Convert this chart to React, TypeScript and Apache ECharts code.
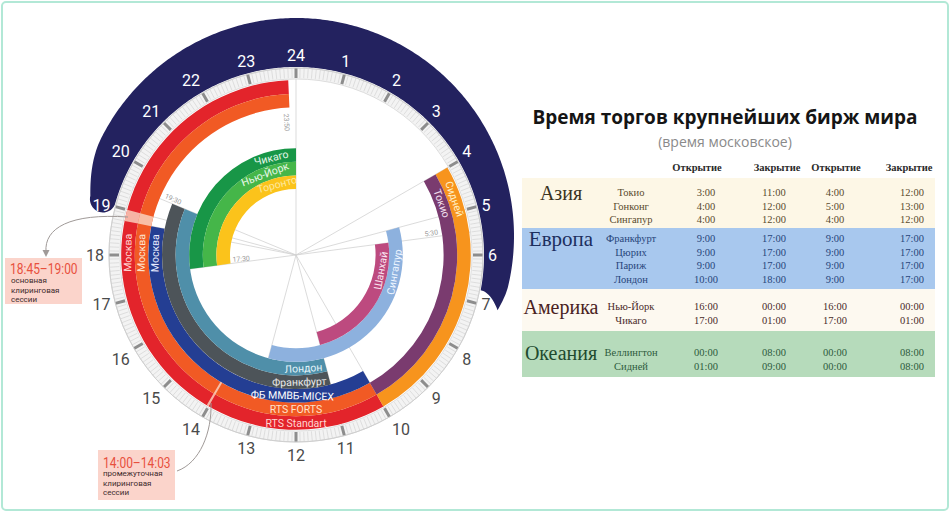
import React, { useEffect, useRef } from "react";
import * as echarts from "echarts";

// ---------------- data ----------------
const hourTickLabels = ["24", "1", "2", "3", "4", "5", "6", "7", "8", "9", "10", "11", "12", "13", "14", "15", "16", "17", "18", "19", "20", "21", "22", "23"];
const nightHours = [19, 20, 21, 22, 23, 0, 1, 2, 3, 4, 5, 6];

const exchanges = ["RTS Standart", "RTS FORTS", "ФБ ММВБ-MICEX", "Франкфурт", "Лондон", "Сингапур", "Шанхай", "Сидней", "Токио", "Чикаго", "Нью-Йорк", "Торонто"];
const exchangeRing = [7, 6, 5, 4, 3, 2, 1, 7, 6, 2, 1, 0];
const exchangeOpen = [10, 10, 10, 11, 11, 5, 5.5, 4, 4, 17.5, 17.5, 17.5];
const exchangeClose = [23.83, 23.83, 18.75, 19.5, 19.5, 13, 11, 10, 10, 24, 24, 24];

const clearingName = ["14:00–14:03", "18:45–19:00"];
const clearingDesc = ["промежуточная\nклиринговая\nсессии", "основная\nклиринговая\nсессии"];
const clearingStart = [14, 18.75];
const clearingEnd = [14.05, 19];
const clearingRings = [7, 6];

const ringLabelText = ["RTS Standart", "RTS FORTS", "ФБ ММВБ-MICEX", "Франкфурт", "Лондон", "Москва", "Москва", "Москва", "Сидней", "Токио", "Сингапур", "Шанхай", "Чикаго", "Нью-Йорк", "Торонто"];
const ringLabelRing = [7, 6, 5, 4, 3, 7, 6, 5, 7, 6, 2, 1, 2, 1, 0];
const ringLabelHour = [12, 12, 12.1, 11.9, 11.75, 18.05, 18.05, 18.05, 4.7, 4.7, 6.65, 6.7, 23.05, 22.6, 23.0];

const markerHours = [0, 4, 5, 5.5, 10, 11, 13, 17.5, 18.75, 19, 19.5];
const markerText = ["23:50", "17:30", "19:30", "5:30"];
const markerTextHour = [23.72, 17.7, 19.62, 5.4];

const starHour = [19.45, 19.55, 20.3, 20.45, 20.7, 21.25, 21.4, 21.7, 22.2, 22.45, 22.75, 23.25, 23.4, 23.7, 0.25, 0.45, 0.75, 1.2, 1.45, 1.75, 2.25, 2.5, 2.8, 3.2, 3.45, 3.75, 4.25, 4.5, 4.8, 5.25, 5.45, 5.75, 6.25, 6.45, 20.05, 21.05, 22.05, 23.05, 0.95, 1.95, 2.95, 3.95, 4.95];
const starRadius = [203, 210, 207, 216, 204, 212, 221, 207, 217, 210, 226, 206, 222, 215, 225, 208, 218, 211, 228, 205, 217, 225, 208, 213, 226, 206, 216, 209, 221, 206, 214, 219, 204, 211, 217, 219, 224, 228, 229, 229, 226, 222, 218];

// table
const tableTitle = "Время торгов крупнейших бирж мира";
const tableSubtitle = "(время московское)";
const headers = ["Открытие", "Закрытие", "Открытие", "Закрытие"];
const regions = ["Азия", "Европа", "Америка", "Океания"];
const cities = ["Токио", "Гонконг", "Сингапур", "Франкфурт", "Цюрих", "Париж", "Лондон", "Нью-Йорк", "Чикаго", "Веллингтон", "Сидней"];
const cityRegion = [0, 0, 0, 1, 1, 1, 1, 2, 2, 3, 3];
const open1 = ["3:00", "4:00", "4:00", "9:00", "9:00", "9:00", "10:00", "16:00", "17:00", "00:00", "01:00"];
const close1 = ["11:00", "12:00", "12:00", "17:00", "17:00", "17:00", "18:00", "00:00", "01:00", "08:00", "09:00"];
const open2 = ["4:00", "5:00", "4:00", "9:00", "9:00", "9:00", "9:00", "16:00", "17:00", "00:00", "00:00"];
const close2 = ["12:00", "13:00", "12:00", "17:00", "17:00", "17:00", "17:00", "00:00", "01:00", "08:00", "08:00"];

// ---------------- styles & layout ----------------
const exchangeColor = ["#e3242b", "#f15a24", "#243e93", "#4d5459", "#4f8fa9", "#8db1de", "#bd4a7f", "#f7941d", "#7a3b6f", "#189647", "#45b649", "#fbc31b"];
const ringLabelColor = ["#ffd6d2", "#ffe3cc", "#ffffff", "#e9e9e9", "#e3f4fa", "#ffd6d2", "#ffe3cc", "#e8ecff", "#fff0c8", "#f3e0ef", "#eef5ff", "#fbe3ee", "#e6f7ea", "#e9f8ea", "#fde9a0"];
const clearingColor = ["#f6b3a5", "#f8bfa6"];

const CX = 296, CY = 255, AXIS_R = 187;
const RING_IN = 66, RING_W = 13.6;
const BAND_IN = 176;
const NAVY_IN = 188, NAVY_START = 19.07, NAVY_END_IN = 30.72, NAVY_END_OUT = 31.02;
const NAVY_TAPER_FROM = 30.55, NAVY_TIP_R = 209, NAVY_LEFT_R = 214;
const NAVY_OFF = [0, -19], NAVY_R = 218;
const SANS = "Roboto";
const SERIF = "'Liberation Serif', 'DejaVu Serif', serif";
const NARROW = "'Liberation Sans Narrow', 'Roboto', sans-serif";

const TABLE_X = 522, TABLE_W = 413;
const regionTop = [178, 228, 289, 331];
const regionBottom = [228, 289, 331, 377];
const regionBg = ["#fdf7e6", "#a8c8ee", "#fdf9f0", "#b6dbbb"];
const regionLabelY = [193, 239, 307, 353];
const regionColor = ["#3b3322", "#1c2f5e", "#4a2222", "#1f4a2f"];
const regionFontSize = [20, 21, 20, 20];
const cityColor = ["#5a4a2e", "#27457a", "#4a2a2a", "#2d5a3c"];
const cityY = [192, 206, 219, 238, 252, 265, 279, 306, 320, 352, 366];
const REGION_X = 561, CITY_X = 631;
const valueX = [706, 774, 835, 912];
const headerX = [697, 777, 836, 909];
const HEADER_Y = 167;

const ringR0 = (k: number) => RING_IN + k * RING_W;

function buildOption() {
  const TAU = Math.PI * 2;
  const center = (api: any) => api.coord([0, 0]);
  const pxRadius = (api: any, v: number) => {
    const c = center(api);
    const p = api.coord([v, 0]);
    return Math.hypot(p[0] - c[0], p[1] - c[1]);
  };
  const screenAngle = (api: any, t: number) => {
    const c = center(api);
    const p = api.coord([AXIS_R, t]);
    return Math.atan2(p[1] - c[1], p[0] - c[0]);
  };
  const sector = (api: any, r0: number, r1: number, t0: number, t1: number, style: any) => {
    const c = center(api);
    const a0 = screenAngle(api, t0);
    let a1 = screenAngle(api, t1);
    while (a1 <= a0 + 1e-9) a1 += TAU;
    return {
      type: "sector",
      shape: { cx: c[0], cy: c[1], r0: pxRadius(api, r0), r: pxRadius(api, r1), startAngle: a0, endAngle: a1, clockwise: true },
      style,
    };
  };
  const unitDir = (api: any, t: number) => {
    const c = center(api);
    const p = api.coord([AXIS_R, t]);
    const dx = p[0] - c[0], dy = p[1] - c[1];
    const l = Math.hypot(dx, dy);
    return [dx / l, dy / l];
  };
  const clockAngle = (api: any, p: number[]) => {
    const c = center(api);
    let th = Math.atan2(p[0] - c[0], -(p[1] - c[1]));
    if (th < 0) th += TAU;
    return th;
  };

  const navyRender = (params: any, api: any) => {
    const offCircle = (t: number) => {
      const u = unitDir(api, t);
      const ud = u[0] * NAVY_OFF[0] + u[1] * NAVY_OFF[1];
      return ud + Math.sqrt(ud * ud - (NAVY_OFF[0] ** 2 + NAVY_OFF[1] ** 2) + NAVY_R * NAVY_R);
    };
    const outer = (t: number) => {
      let r = offCircle(t);
      if (t < NAVY_START + 1) {
        const f = Math.pow(NAVY_START + 1 - t, 2);
        r = r + (NAVY_LEFT_R - r) * f;
      }
      if (t > NAVY_TAPER_FROM) {
        const f = Math.pow((t - NAVY_TAPER_FROM) / (NAVY_END_OUT - NAVY_TAPER_FROM), 2);
        r = r + (NAVY_TIP_R - r) * f;
      }
      return r;
    };
    const pts: number[][] = [];
    for (let t = NAVY_START; t < NAVY_END_OUT; t += 0.04) pts.push(api.coord([outer(t), t]));
    const tip = api.coord([NAVY_TIP_R, NAVY_END_OUT]);
    pts.push(tip);
    const inEnd = api.coord([NAVY_IN, NAVY_END_IN]);
    const mid = [(tip[0] + inEnd[0]) / 2, (tip[1] + inEnd[1]) / 2];
    const tm = (NAVY_END_IN + NAVY_END_OUT) / 2;
    const q0 = api.coord([198, tm]), q1 = api.coord([198, tm - 0.2]);
    const bl = Math.hypot(q1[0] - q0[0], q1[1] - q0[1]);
    const back = [(q1[0] - q0[0]) / bl, (q1[1] - q0[1]) / bl];
    const ctrl = [mid[0] + back[0] * 8, mid[1] + back[1] * 8];
    for (let k = 1; k < 12; k++) {
      const s = k / 12;
      pts.push([
        (1 - s) * (1 - s) * tip[0] + 2 * (1 - s) * s * ctrl[0] + s * s * inEnd[0],
        (1 - s) * (1 - s) * tip[1] + 2 * (1 - s) * s * ctrl[1] + s * s * inEnd[1],
      ]);
    }
    for (let t = NAVY_END_IN; t > NAVY_START; t -= 0.04) pts.push(api.coord([NAVY_IN, t]));
    const pi = api.coord([NAVY_IN, NAVY_START]);
    const po = api.coord([outer(NAVY_START), NAVY_START]);
    const cc = [(pi[0] + po[0]) / 2, (pi[1] + po[1]) / 2];
    const rho = Math.hypot(po[0] - pi[0], po[1] - pi[1]) / 2;
    const u = [(po[0] - pi[0]) / (2 * rho), (po[1] - pi[1]) / (2 * rho)];
    const rm = (NAVY_IN + outer(NAVY_START)) / 2;
    const w0 = api.coord([rm, NAVY_START]), w1 = api.coord([rm, NAVY_START - 0.2]);
    const wl = Math.hypot(w1[0] - w0[0], w1[1] - w0[1]);
    const w = [(w1[0] - w0[0]) / wl, (w1[1] - w0[1]) / wl];
    for (let k = 0; k <= 24; k++) {
      const ph = (Math.PI * k) / 24;
      pts.push([cc[0] + rho * (-Math.cos(ph) * u[0] + Math.sin(ph) * w[0]), cc[1] + rho * (-Math.cos(ph) * u[1] + Math.sin(ph) * w[1])]);
    }
    return { type: "polygon", shape: { points: pts }, style: { fill: "#23225f" } };
  };

  // table graphics
  const tableEls: any[] = [];
  tableEls.push({
    type: "text", x: 725, y: 117, z: 20,
    style: { text: tableTitle, fill: "#151515", fontSize: 19, fontWeight: "bold", fontFamily: "'Open Sans'", align: "center", verticalAlign: "middle", textAlign: "center", textVerticalAlign: "middle" },
  });
  tableEls.push({
    type: "text", x: 725, y: 141, z: 20,
    style: { text: tableSubtitle, fill: "#8a8a8a", fontSize: 14, fontFamily: "'Open Sans'", align: "center", verticalAlign: "middle", textAlign: "center", textVerticalAlign: "middle" },
  });
  headers.forEach((h, k) => {
    tableEls.push({
      type: "text", x: headerX[k], y: HEADER_Y, z: 20,
      style: { text: h, fill: "#2a2a2a", fontSize: 10.5, fontWeight: "bold", fontFamily: SERIF, align: "center", verticalAlign: "middle", textAlign: "center", textVerticalAlign: "middle" },
    });
  });
  regions.forEach((name, i) => {
    tableEls.push({ type: "rect", z: 10, shape: { x: TABLE_X, y: regionTop[i], width: TABLE_W, height: regionBottom[i] - regionTop[i] }, style: { fill: regionBg[i] } });
    tableEls.push({
      type: "text", x: REGION_X, y: regionLabelY[i], z: 20,
      style: { text: name, fill: regionColor[i], fontSize: regionFontSize[i], fontFamily: SERIF, align: "center", verticalAlign: "middle", textAlign: "center", textVerticalAlign: "middle" },
    });
  });
  cities.forEach((name, j) => {
    const col = cityColor[cityRegion[j]];
    const mk = (text: string, x: number) => ({
      type: "text", x, y: cityY[j], z: 20,
      style: { text, fill: col, fontSize: 10.5, fontFamily: SERIF, align: "center", verticalAlign: "middle", textAlign: "center", textVerticalAlign: "middle" },
    });
    tableEls.push(mk(name, CITY_X));
    [open1, close1, open2, close2].forEach((arr, k) => tableEls.push(mk(arr[j], valueX[k])));
  });

  // callouts
  const calloutEls: any[] = [
    { type: "rect", z: 10, shape: { x: 5, y: 258, width: 77, height: 46 }, style: { fill: "#fbd4cb" } },
    { type: "text", z: 20, x: 10, y: 268, scaleX: 0.8, style: { text: clearingName[1], fill: "#e8503d", fontSize: 15, fontFamily: NARROW, align: "left", verticalAlign: "middle", textAlign: "left", textVerticalAlign: "middle" } },
    { type: "text", z: 20, x: 11, y: 276, style: { text: clearingDesc[1], fill: "#3d2b2b", fontSize: 8, lineHeight: 9.5, fontFamily: SANS, align: "left", verticalAlign: "top", textAlign: "left", textVerticalAlign: "top" } },
    { type: "rect", z: 10, shape: { x: 98, y: 450, width: 77, height: 50 }, style: { fill: "#fbd4cb" } },
    { type: "text", z: 20, x: 103, y: 462, scaleX: 0.8, style: { text: clearingName[0], fill: "#e8503d", fontSize: 15, fontFamily: NARROW, align: "left", verticalAlign: "middle", textAlign: "left", textVerticalAlign: "middle" } },
    { type: "text", z: 20, x: 103, y: 469, style: { text: clearingDesc[0], fill: "#3d2b2b", fontSize: 8, lineHeight: 9.5, fontFamily: SANS, align: "left", verticalAlign: "top", textAlign: "left", textVerticalAlign: "top" } },
    { type: "bezierCurve", z: 20, shape: { x1: 128, y1: 217, x2: 46, y2: 252, cpx1: 70, cpy1: 213, cpx2: 44, cpy2: 228 }, style: { stroke: "#a09a98", lineWidth: 1, fill: "none" } },
    { type: "polygon", z: 20, shape: { points: [[42.5, 250], [49.5, 250], [46, 257]] }, style: { fill: "#a09a98" } },
    { type: "bezierCurve", z: 20, shape: { x1: 177, y1: 471, x2: 211, y2: 403, cpx1: 200, cpy1: 463, cpx2: 212, cpy2: 432 }, style: { stroke: "#a09a98", lineWidth: 1, fill: "none" } },
    { type: "rect", z: 30, shape: { x: 2, y: 2, width: 946, height: 508, r: 4 }, style: { fill: "none", stroke: "#b2e8d6", lineWidth: 2 } },
  ];

  return {
    animation: false,
    backgroundColor: "#ffffff",
    polar: { center: [CX, CY], radius: [0, AXIS_R] },
    radiusAxis: { type: "value", min: 0, max: AXIS_R, show: false },
    angleAxis: {
      type: "value", min: 0, max: 24, interval: 1, startAngle: 90, clockwise: true,
      axisLine: { show: true, lineStyle: { color: "#cfcfcf", width: 1 } },
      axisTick: { show: true, inside: true, length: 10, lineStyle: { color: "#8d8d8d", width: 3 } },
      minorTick: { show: true, splitNumber: 12, length: 10, lineStyle: { color: "#d4d4d4", width: 0.7 } },
      splitLine: { show: false },
      axisLabel: {
        show: true, margin: 5,
        formatter: (v: number) => {
          const h = Math.round(v) % 24;
          const lbl = hourTickLabels[h];
          return nightHours.indexOf(h) >= 0 ? `{n|${lbl}}` : `{d|${lbl}}`;
        },
        rich: {
          n: { color: "#ffffff", fontSize: 16, fontFamily: SANS },
          d: { color: "#4a4a4a", fontSize: 16, fontFamily: SANS },
        },
      },
    },
    graphic: { elements: [...tableEls, ...calloutEls] },
    series: [
      {
        type: "custom", coordinateSystem: "polar", z: -2, silent: true,
        data: [[NAVY_IN, NAVY_START]],
        renderItem: navyRender,
      },
      {
        type: "custom", coordinateSystem: "polar", z: -1, silent: true,
        data: [[AXIS_R, 0]],
        renderItem: (params: any, api: any) => sector(api, BAND_IN, AXIS_R, 0, 24, { fill: "#f3f3f3", stroke: "#d6d6d6", lineWidth: 0.8 }),
      },
      {
        type: "scatter", coordinateSystem: "polar", z: -1, silent: true,
        symbolSize: 2, itemStyle: { color: "#a9addf" },
        data: starHour.map((h, i) => [starRadius[i], h]),
      },
      {
        type: "custom", coordinateSystem: "polar", z: 1, silent: true,
        data: markerHours.map((h) => [BAND_IN, h]),
        renderItem: (params: any, api: any) => {
          const h = markerHours[params.dataIndex];
          const a = api.coord([0, h]);
          const b = api.coord([BAND_IN, h]);
          return { type: "line", shape: { x1: a[0], y1: a[1], x2: b[0], y2: b[1] }, style: { stroke: "#d2d2d2", lineWidth: 0.8 } };
        },
      },
      {
        type: "custom", coordinateSystem: "polar", z: 2, silent: true,
        data: exchanges.map((n, i) => [ringR0(exchangeRing[i]) + RING_W, exchangeOpen[i], exchangeClose[i]]),
        renderItem: (params: any, api: any) => {
          const i = params.dataIndex;
          const k = exchangeRing[i];
          return sector(api, ringR0(k), ringR0(k) + RING_W, exchangeOpen[i], exchangeClose[i], { fill: exchangeColor[i] });
        },
      },
      {
        type: "custom", coordinateSystem: "polar", z: 3, silent: true,
        data: clearingStart.map((s, i) => [ringR0(7) + RING_W, s, clearingEnd[i]]),
        renderItem: (params: any, api: any) => {
          const i = params.dataIndex;
          return {
            type: "group",
            children: clearingRings.map((k, j) =>
              sector(api, ringR0(k), ringR0(k) + RING_W, clearingStart[i], clearingEnd[i], { fill: clearingColor[j] })
            ),
          };
        },
      },
      {
        type: "custom", coordinateSystem: "polar", z: 4, silent: true,
        data: ringLabelText.map((t, i) => [ringR0(ringLabelRing[i]) + RING_W / 2, ringLabelHour[i]]),
        renderItem: (params: any, api: any) => {
          const i = params.dataIndex;
          const p = api.coord([ringR0(ringLabelRing[i]) + RING_W / 2, ringLabelHour[i]]);
          const th = clockAngle(api, p);
          const flip = th > Math.PI / 2 && th < (3 * Math.PI) / 2;
          const rotation = flip ? Math.PI - th : -th;
          return {
            type: "text", x: p[0], y: p[1], rotation,
            style: { text: ringLabelText[i], fill: ringLabelColor[i], fontSize: 10.5, fontFamily: SANS, align: "center", verticalAlign: "middle" },
          };
        },
      },
      {
        type: "custom", coordinateSystem: "polar", z: 4, silent: true,
        data: markerText.map((t, i) => [133, markerTextHour[i]]),
        renderItem: (params: any, api: any) => {
          const i = params.dataIndex;
          const radii = [133, 55, 135, 137];
          const p = api.coord([radii[i], markerTextHour[i]]);
          const th = clockAngle(api, p);
          const s = Math.sin(th), c = Math.cos(th);
          const rotation = s > 0 ? Math.atan2(c, s) : Math.atan2(-c, -s);
          return {
            type: "text", x: p[0], y: p[1], rotation,
            style: { text: markerText[i], fill: "#9a9a9a", fontSize: 7, fontFamily: SANS, align: "center", verticalAlign: "middle" },
          };
        },
      },
    ],
  };
}

export default function App() {
  const ref = useRef<HTMLDivElement>(null);
  useEffect(() => {
    if (!ref.current) return;
    const chart = echarts.init(ref.current, null, { renderer: "svg" });
    chart.setOption(buildOption() as any);
    return () => chart.dispose();
  }, []);
  return (
    <div
      ref={ref}
      style={{ position: "fixed", left: 0, top: 0, width: 950, height: 518, background: "#fff" }}
    />
  );
}
